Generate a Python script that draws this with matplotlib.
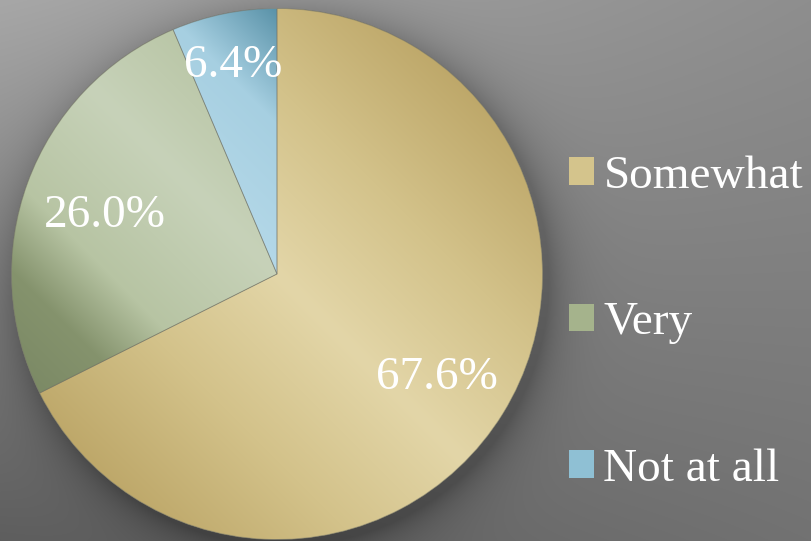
import numpy as np
import matplotlib
matplotlib.use("Agg")
import matplotlib.pyplot as plt
from matplotlib.colors import to_rgb
from matplotlib.patches import Wedge

categories = ["Somewhat", "Very", "Not at all"]
values = [67.6, 26.0, 6.4]
pct_labels = ["67.6%", "26.0%", "6.4%"]

W, H = 811, 541
fig = plt.figure(figsize=(W / 100, H / 100), dpi=100)

# ---- background gradient with soft shadow around pie ----
cx, cy, R = 277.0, 274.0, 265.5
yy, xx = np.mgrid[0:H, 0:W].astype(float)
fx, fy = xx / (W - 1), yy / (H - 1)
TL, TR, BL, BR = 0xa7, 0x8e, 0x5e, 0x72
base = (TL * (1 - fx) * (1 - fy) + TR * fx * (1 - fy) + BL * (1 - fx) * fy + BR * fx * fy) / 255.0
d = np.hypot(xx - (cx + 6), yy - (cy + 6)) - R
shadow = 0.13 * np.exp(-np.clip(d, 0, None) / 22.0)
bg = np.clip(base - shadow, 0, 1)
bgax = fig.add_axes([0, 0, 1, 1])
bgax.imshow(np.dstack([bg, bg, bg]), extent=(0, W, H, 0), aspect="auto")
bgax.set_axis_off()

# ---- pie ----
ax = fig.add_axes([(cx - R) / W, (H - cy - R) / H, 2 * R / W, 2 * R / H])
ax.set_facecolor("none")
mid_colors = ["#d4c48c", "#a5b38c", "#8fc0d4"]
wedges, _ = ax.pie(values, startangle=90, counterclock=False, colors=mid_colors,
                   radius=1.0, wedgeprops=dict(edgecolor=(0.45, 0.45, 0.4, 0.6), linewidth=0.6))
ax.set_aspect("equal")
ax.set_axis_off()

stops = [
    [(0.0, "#e3d6a8"), (0.5, "#d3c28a"), (1.0, "#bea86a")],
    [(0.0, "#c7d2b9"), (0.45, "#b7c4a3"), (0.7, "#85936d"), (1.0, "#7a8864")],
    [(0.0, "#b4d8e8"), (0.4, "#a6cfe1"), (0.7, "#5b93a9"), (1.0, "#4d8399")],
]
n = 600
gx, gy = np.meshgrid(np.linspace(-1, 1, n), np.linspace(1, -1, n))
t = np.clip(np.abs(gx + gy) / np.sqrt(2), 0, 1)
for w, st in zip(wedges, stops):
    ts = [s[0] for s in st]
    cols = np.array([to_rgb(s[1]) for s in st])
    img = np.dstack([np.interp(t, ts, cols[:, k]) for k in range(3)])
    im = ax.imshow(img, extent=(-1, 1, -1, 1), zorder=w.get_zorder() + 0.1, interpolation="bilinear")
    im.set_clip_path(w)
    ec = Wedge((0, 0), 1.0, w.theta1, w.theta2, facecolor="none",
               edgecolor=(0.45, 0.45, 0.4, 0.5), linewidth=0.6, zorder=5)
    ax.add_patch(ec)
ax.set_xlim(-1, 1)
ax.set_ylim(-1, 1)

font = "Liberation Serif"
label_dist = [0.71, 0.69, 0.82]
for w, lab, r in zip(wedges, pct_labels, label_dist):
    ang = np.deg2rad((w.theta1 + w.theta2) / 2)
    ax.text(r * np.cos(ang), r * np.sin(ang), lab, ha="center", va="center_baseline",
            fontsize=34, color="white", family=font, zorder=10)

leg = fig.legend(wedges, categories, loc="center left", bbox_to_anchor=(569 / W, (H - 323) / H),
                 frameon=False, prop=dict(family=font, size=34), labelcolor="white",
                 handlelength=0.53, handleheight=0.53, handletextpad=0.2,
                 labelspacing=2.2, borderpad=0, borderaxespad=0)
for h in leg.legend_handles:
    h.set_edgecolor("none")

fig.savefig("out.png", dpi=100)
